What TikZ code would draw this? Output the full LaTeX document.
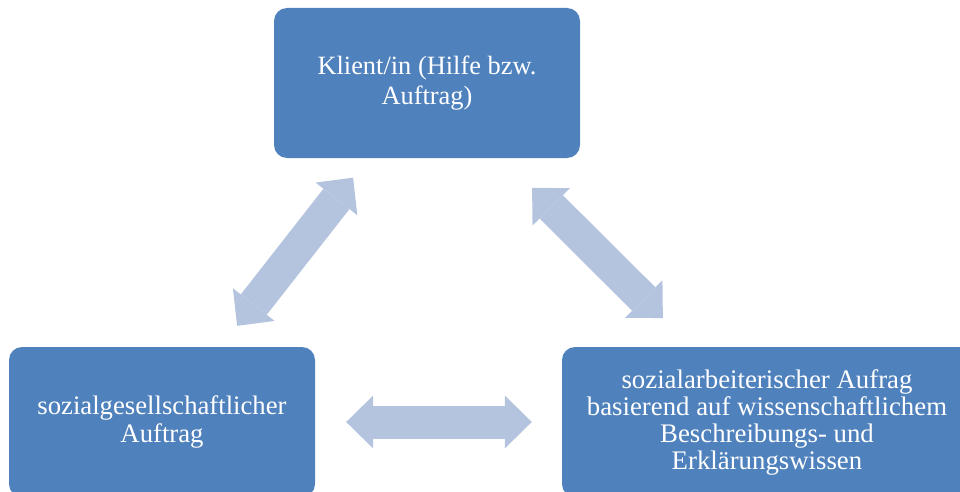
\documentclass[tikz,border=0pt]{standalone}
\usepackage{fontspec}
\setmainfont{Liberation Serif}
\usepackage{tikz}
\usetikzlibrary{arrows.meta}
\definecolor{boxblue}{RGB}{79,129,189}
\definecolor{arrowblue}{RGB}{180,196,222}
\tikzstyle{box} = [rectangle, fill=boxblue, text=white, rounded corners=13pt, inner sep=0pt, minimum width=306pt, minimum height=150pt, align=center, font=\fontsize{26.7}{28}\selectfont]
\tikzstyle{link} = [arrowblue, line width=33pt, {Triangle[length=27pt,width=53pt,line width=0pt]}-{Triangle[length=27pt,width=53pt,line width=0pt]}]
\begin{document}
\begin{tikzpicture}[x=1pt, y=-1pt]
    \useasboundingbox (0,0) rectangle (960,492);
    \node[box, font=\fontsize{26.4}{30}\selectfont] (klient) at (427,83) {Klient/in (Hilfe bzw.\\Auftrag)};
    \node[box] (gesell) at (162,422) {sozialgesellschaftlicher\\Auftrag};
    \node[box, minimum width=410pt, font=\fontsize{26.8}{27}\selectfont] (sozarb) at (767,422) {sozialarbeiterischer Aufrag\\basierend auf wissenschaftlichem\\Beschreibungs- und\\Erklärungswissen};
    \draw[link, shorten <=26.6pt, shorten >=24.7pt] (gesell) -- (klient);
    \draw[link, shorten <=42pt, shorten >=40.7pt] (klient) -- (sozarb);
    \draw[link, shorten <=31pt, shorten >=30pt] (gesell) -- (sozarb);
\end{tikzpicture}
\end{document}
